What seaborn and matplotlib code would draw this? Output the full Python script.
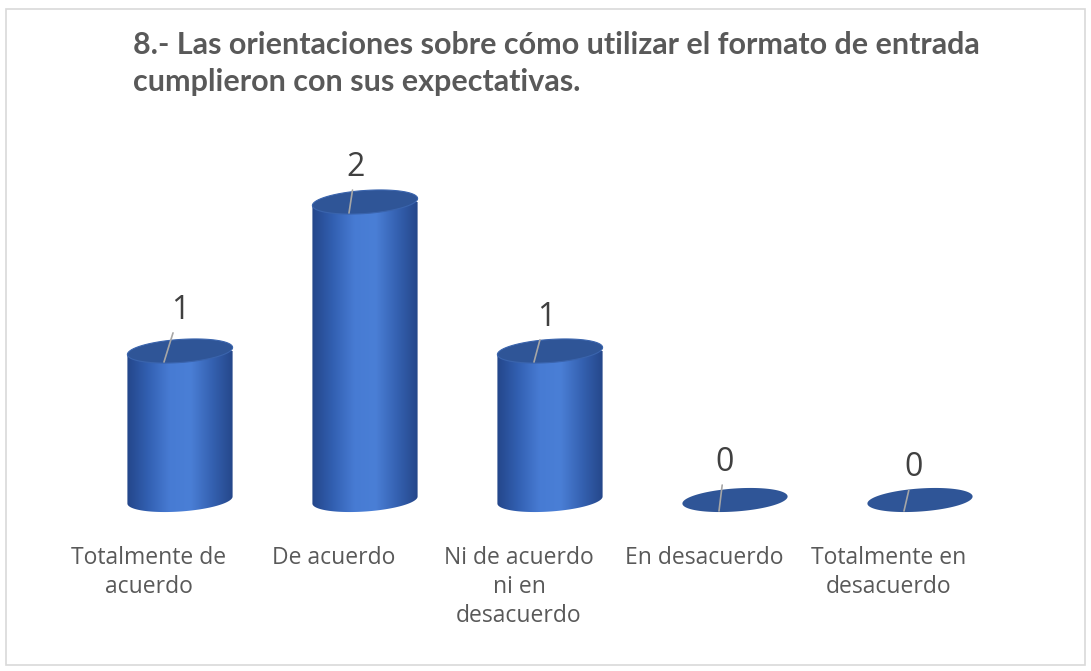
import numpy as np
import pandas as pd
import matplotlib
matplotlib.use("Agg")
import matplotlib.pyplot as plt
import seaborn as sns
from matplotlib.patches import Polygon
from matplotlib.colors import LinearSegmentedColormap
from matplotlib.transforms import ScaledTranslation

categories = ["Totalmente de\nacuerdo", "De acuerdo", "Ni de acuerdo\nni en\ndesacuerdo",
              "En desacuerdo", "Totalmente en\ndesacuerdo"]
values = [1, 2, 1, 0, 0]
title = "8.- Las orientaciones sobre cómo utilizar el formato de entrada\ncumplieron con sus expectativas."

sns.set_theme(style="white")
plt.rcParams['font.family'] = ['Open Sans', 'DejaVu Sans']

W, H = 1091, 671
fig = plt.figure(figsize=(W / 100, H / 100), dpi=100)

unit_px = 149.0
cat_px = 185.0
zero_px = 500.0
ax_l, ax_r = 87.5, 1012.5
ax_t = 120.0
ybot = -0.3
ax_b = zero_px - ybot * unit_px
ax = fig.add_axes([ax_l / W, 1 - ax_b / H, (ax_r - ax_l) / W, (ax_b - ax_t) / H])

df = pd.DataFrame({"cat": categories, "val": values})
bw = 0.57
sns.barplot(data=df, x="cat", y="val", ax=ax, width=bw, color="#4472C4",
            saturation=1, edgecolor="none", linewidth=0, zorder=2)
ax.set_xlim(-0.5, 4.5)
ax.set_ylim(ybot, (zero_px - ax_t) / unit_px)

cmap = LinearSegmentedColormap.from_list(
    "cyl", ["#24468a", "#3260b2", "#477bd3", "#4a7fd6", "#3562b2", "#25478a"])
grad = np.linspace(0, 1, 256).reshape(1, -1)

ell_b_px = 11.5
phi = np.deg2rad(4)


def ellipse_pts(cx, cy, w, t):
    a = w * cat_px / 2
    dx = a * np.cos(t) * np.cos(phi) - ell_b_px * np.sin(t) * np.sin(phi)
    dy = a * np.cos(t) * np.sin(phi) + ell_b_px * np.sin(t) * np.cos(phi)
    return np.column_stack([cx + dx / cat_px, cy + dy / unit_px])


full_t = np.linspace(0, 2 * np.pi, 200)
for i, (p, v) in enumerate(zip(ax.patches, values)):
    x0 = p.get_x()
    w = p.get_width()
    cx = x0 + w / 2
    if v > 0:
        p.set_visible(False)
        lower = ellipse_pts(cx, 0, w, np.linspace(np.pi, 2 * np.pi, 100))
        right_top = ellipse_pts(cx, v, w, np.array([0.0]))
        left_top = ellipse_pts(cx, v, w, np.array([np.pi]))
        body_pts = np.vstack([lower, right_top, left_top])
        body = Polygon(body_pts, closed=True, transform=ax.transData)
        im = ax.imshow(grad, extent=(x0, x0 + w, ybot, v), aspect="auto",
                       cmap=cmap, zorder=2)
        im.set_clip_path(body)
        top = Polygon(ellipse_pts(cx, v, w, full_t), closed=True, facecolor="#2f5597",
                      edgecolor="#3a64ad", linewidth=0.8, zorder=3, clip_on=False)
        ax.add_patch(top)
    else:
        flat = Polygon(ellipse_pts(cx, v, w, full_t), closed=True, facecolor="#2f5597",
                       edgecolor="none", zorder=3, clip_on=False)
        ax.add_patch(flat)

# data labels with leader lines: anchor inside top ellipse, text offset in points
anch_dx, anch_dy = -16 / cat_px, -11 / unit_px
offs = [(11.5, 31), (5, 26.6), (8.6, 26), (4.3, 28.8), (7.2, 25)]
for i, v in enumerate(values):
    ax.annotate(str(v), xy=(i + anch_dx, v + anch_dy),
                xytext=offs[i], textcoords="offset points",
                ha="center", va="baseline", fontsize=23, color="#404040",
                arrowprops=dict(arrowstyle="-", color="#A6A6A6", lw=1.2,
                                shrinkA=2, shrinkB=0),
                annotation_clip=False, zorder=4)

ax.set_xlabel("")
ax.set_ylabel("")
ax.set_yticks([])
ax.tick_params(axis="x", length=0, pad=1, labelsize=16.5, labelcolor="#595959")
shift = ScaledTranslation(-31 / 100, 0, fig.dpi_scale_trans)
for lbl in ax.get_xticklabels():
    lbl.set_linespacing(1.28)
    lbl.set_transform(lbl.get_transform() + shift)
for s in ax.spines.values():
    s.set_visible(False)
ax.patch.set_alpha(0)

fig.text(133 / W, 1 - 31 / H, title, ha="left", va="top", fontsize=22,
         fontweight="bold", color="#595959", linespacing=1.37,
         family=['Lato', 'DejaVu Sans'])

border = Polygon([(6 / W, 1 - 665 / H), (1085 / W, 1 - 665 / H), (1085 / W, 1 - 9 / H),
                  (6 / W, 1 - 9 / H)], closed=True, transform=fig.transFigure,
                 fill=False, edgecolor="#D9D9D9", linewidth=1.2)
fig.patches.append(border)

fig.savefig("out.png", dpi=100, facecolor="white")
